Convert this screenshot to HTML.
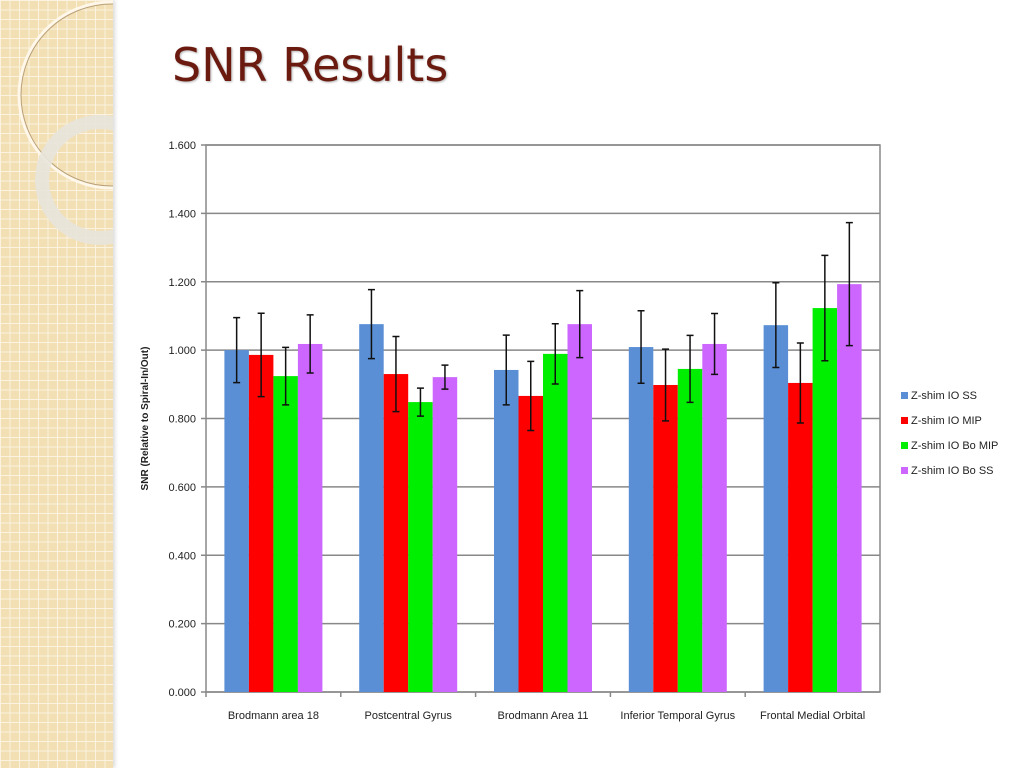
<!DOCTYPE html>
<html><head><meta charset="utf-8"><style>
body{margin:0;width:1024px;height:768px;overflow:hidden;background:#fff;font-family:"Liberation Sans",sans-serif;position:relative}
#strip{position:absolute;left:0;top:0;width:113px;height:768px;background-color:#f2dfb4;
background-image:linear-gradient(#fbf3e0 1px,transparent 1px),linear-gradient(90deg,#fbf3e0 1px,transparent 1px);background-size:9.5px 9.5px;box-shadow:2px 0 4px rgba(0,0,0,0.15)}
#title{position:absolute;left:172px;top:38px;font-family:"DejaVu Sans","Liberation Sans",sans-serif;font-size:46px;color:#6b1a10;text-shadow:1px 1px 2px rgba(0,0,0,0.3)}
</style></head><body>
<div id="strip">
<svg width="113" height="768" style="position:absolute;left:0;top:0">
<circle cx="112" cy="95" r="93" fill="none" stroke="#fff8ea" stroke-width="3"/>
<circle cx="112" cy="95" r="91" fill="none" stroke="#b9a07a" stroke-width="1"/>
<circle cx="100" cy="180" r="58" fill="none" stroke="#e8e4dc" stroke-width="14" opacity="0.9"/>
</svg></div>
<div id="title">SNR Results</div>
<svg id="chart" width="1024" height="768" style="position:absolute;left:0;top:0"></svg>
<script>
const categories=["Brodmann area 18","Postcentral Gyrus","Brodmann Area 11","Inferior Temporal Gyrus","Frontal Medial Orbital"];
const seriesNames=["Z-shim IO SS","Z-shim IO MIP","Z-shim IO Bo MIP","Z-shim IO Bo SS"];
const seriesColors=["#5a8fd6","#ff0000","#00ee00","#cc66ff"];
const ssValues=[1.000,1.076,0.942,1.009,1.073];
const mipValues=[0.986,0.930,0.866,0.898,0.904];
const boMipValues=[0.924,0.848,0.989,0.945,1.123];
const boSsValues=[1.018,0.921,1.076,1.018,1.193];
const ssErr=[0.095,0.101,0.102,0.106,0.124];
const mipErr=[0.122,0.110,0.101,0.105,0.117];
const boMipErr=[0.084,0.041,0.088,0.098,0.154];
const boSsErr=[0.085,0.035,0.098,0.089,0.180];
const tickLabels=["0.000","0.200","0.400","0.600","0.800","1.000","1.200","1.400","1.600"];
const tickValues=[0,0.2,0.4,0.6,0.8,1.0,1.2,1.4,1.6];
const values=[ssValues,mipValues,boMipValues,boSsValues];
const errs=[ssErr,mipErr,boMipErr,boSsErr];
const NS="http://www.w3.org/2000/svg";
const svg=document.getElementById('chart');
const X0=206,X1=880,Y0=692,Y1=145,VMAX=1.6;
const y=v=>Y0-(v/VMAX)*(Y0-Y1);
const catW=(X1-X0)/categories.length, barW=24.5;
const x=(c,s)=>X0+c*catW+(catW-barW*4)/2+s*barW;
function mk(t,a){const e=document.createElementNS(NS,t);for(const k in a)e.setAttribute(k,a[k]);svg.appendChild(e);return e;}
let e=mk('rect',{x:X0,y:Y1,width:X1-X0,height:Y0-Y1,fill:'#fff',stroke:'#888','stroke-width':1.5});


tickValues.forEach((v,i)=>{
 const g=mk('line',{x1:X0-5,x2:X1,y1:y(v),y2:y(v),stroke:'#888','stroke-width':1.5});
 
 
 const t=mk('text',{x:X0-10,y:y(v)+4,'font-size':11,'text-anchor':'end',fill:'#222'});
 t.textContent=tickLabels[i];
 
 
});
categories.forEach((c,ci)=>{
 const lx=X0+ci*catW;
 const tk=mk('line',{x1:lx,x2:lx,y1:Y0,y2:Y0+5,stroke:'#888','stroke-width':1.5});
 
 
 const t=mk('text',{x:lx+catW/2,y:719,'font-size':11,'text-anchor':'middle',fill:'#222'});
 t.textContent=c;
 
 
 values.forEach((arr,si)=>{
  const v=arr[ci],bx=x(ci,si);
  const r=mk('rect',{x:bx,y:y(v),width:barW,height:Y0-y(v),fill:seriesColors[si]});
  
  
  const cx=bx+barW/2,er=errs[si][ci];
  const l=mk('path',{d:`M${cx},${y(v+er)}V${y(v-er)}M${cx-3.5},${y(v+er)}h7M${cx-3.5},${y(v-er)}h7`,stroke:'#111','stroke-width':1.5,fill:'none'});
  
  
 });
});
const yt=mk('text',{x:0,y:0,'font-size':10,'font-weight':'bold','text-anchor':'middle',fill:'#222',transform:`translate(148,${(Y0+Y1)/2}) rotate(-90)`});
yt.textContent='SNR (Relative to Spiral-In/Out)';


seriesNames.forEach((n,i)=>{
 const ly=397+i*25;
 const s=mk('rect',{x:901,y:ly-5,width:7,height:7,fill:seriesColors[i]});
 
 
 const t=mk('text',{x:911,y:ly+2,'font-size':11,fill:'#222'});
 t.textContent=n;
 
 
});
</script>
</body></html>
